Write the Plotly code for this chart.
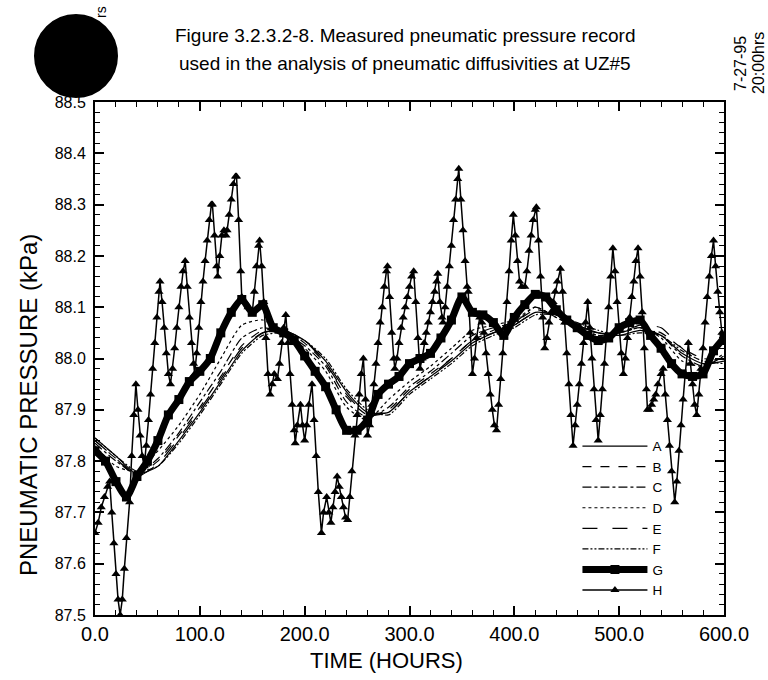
import plotly.graph_objects as go

# ---------------- data ----------------
T20 = list(range(0, 601, 20))
A = [87.845, 87.81, 87.775, 87.79, 87.84, 87.895, 87.955, 88.015, 88.05, 88.055, 88.035, 87.995, 87.935, 87.895, 87.895, 87.935, 87.965, 87.995, 88.03, 88.05, 88.065, 88.09, 88.085, 88.065, 88.05, 88.045, 88.055, 88.045, 88.01, 87.99, 87.995]
B = [87.84, 87.805, 87.775, 87.80, 87.85, 87.905, 87.965, 88.025, 88.055, 88.055, 88.03, 87.99, 87.925, 87.89, 87.90, 87.94, 87.97, 88.0, 88.035, 88.055, 88.07, 88.095, 88.085, 88.06, 88.05, 88.05, 88.06, 88.05, 88.02, 88.0, 88.0]
C = [87.835, 87.80, 87.775, 87.805, 87.855, 87.915, 87.975, 88.04, 88.06, 88.05, 88.025, 87.985, 87.915, 87.885, 87.905, 87.945, 87.975, 88.01, 88.045, 88.06, 88.07, 88.10, 88.08, 88.06, 88.045, 88.05, 88.06, 88.045, 88.005, 87.985, 88.005]
D = [87.83, 87.79, 87.78, 87.82, 87.87, 87.93, 88.00, 88.065, 88.075, 88.05, 88.02, 87.975, 87.905, 87.88, 87.92, 87.955, 87.985, 88.02, 88.055, 88.065, 88.075, 88.10, 88.08, 88.06, 88.045, 88.05, 88.06, 88.04, 87.995, 87.985, 88.01]
E = [87.84, 87.805, 87.77, 87.795, 87.845, 87.90, 87.96, 88.02, 88.05, 88.055, 88.035, 87.99, 87.93, 87.89, 87.895, 87.935, 87.965, 88.0, 88.035, 88.05, 88.065, 88.09, 88.085, 88.065, 88.05, 88.05, 88.065, 88.06, 88.02, 87.99, 87.995]
F = [87.845, 87.81, 87.78, 87.79, 87.835, 87.89, 87.95, 88.01, 88.045, 88.05, 88.035, 88.0, 87.94, 87.90, 87.89, 87.93, 87.96, 87.99, 88.025, 88.045, 88.06, 88.085, 88.085, 88.07, 88.055, 88.045, 88.05, 88.045, 88.015, 87.995, 87.99]

T10 = list(range(0, 601, 10))
G = [87.82, 87.80, 87.76, 87.73, 87.77, 87.80, 87.84, 87.89, 87.92, 87.955,
     87.975, 88.0, 88.05, 88.09, 88.115, 88.09, 88.105, 88.06, 88.05, 88.035,
     88.005, 87.975, 87.945, 87.90, 87.86, 87.86, 87.88, 87.93, 87.95, 87.965,
     87.99, 88.0, 88.01, 88.04, 88.075, 88.12, 88.09, 88.085, 88.07, 88.045,
     88.08, 88.105, 88.125, 88.12, 88.095, 88.075, 88.06, 88.045, 88.035, 88.04,
     88.06, 88.07, 88.075, 88.045, 88.02, 87.99, 87.97, 87.965, 87.97, 88.015,
     88.04]

H_HOURS = [0, 3, 6, 9, 12, 14, 16, 18, 20, 22, 24, 26, 28, 30, 33, 35, 37, 39, 41, 43,
           45, 47, 49, 51, 53, 55, 57, 59, 61, 62, 64, 66, 68, 70, 72, 74, 76, 78, 80, 82,
           84, 86, 88, 90, 92, 94, 95, 97, 99, 101, 103, 105, 107, 109, 111, 112, 114, 116, 117, 119,
           121, 123, 125, 126, 128, 130, 132, 134, 135, 137, 139, 140, 143, 146, 150, 152, 154, 156, 157, 159,
           161, 163, 165, 167, 169, 171, 174, 176, 178, 180, 182, 184, 186, 188, 190, 191, 193, 196, 198, 200,
           202, 204, 207, 209, 211, 213, 216, 218, 221, 223, 225, 227, 229, 231, 233, 235, 237, 239, 241, 243,
           245, 248, 250, 252, 254, 256, 258, 260, 262, 264, 266, 268, 270, 272, 274, 276, 278, 279, 281, 283,
           285, 286, 288, 290, 292, 294, 296, 298, 300, 302, 304, 306, 308, 310, 312, 314, 316, 318, 320, 322,
           324, 326, 327, 329, 331, 332, 334, 336, 338, 340, 342, 344, 346, 347, 349, 351, 353, 355, 356, 358,
           360, 362, 364, 367, 369, 371, 373, 375, 377, 379, 381, 383, 385, 387, 389, 391, 393, 395, 397, 399,
           401, 403, 405, 407, 410, 412, 414, 416, 418, 420, 421, 423, 425, 427, 429, 431, 433, 435, 437, 439,
           441, 444, 446, 448, 450, 452, 454, 456, 458, 460, 462, 464, 466, 468, 470, 472, 474, 476, 478, 480,
           482, 484, 486, 488, 490, 492, 494, 496, 498, 500, 502, 504, 506, 508, 510, 512, 514, 516, 518, 520,
           522, 524, 526, 527, 529, 531, 533, 535, 537, 540, 542, 544, 546, 548, 550, 553, 555, 557, 559, 561,
           563, 566, 568, 570, 572, 574, 576, 578, 580, 582, 584, 586, 588, 590, 592, 594, 596, 598, 600]
H_KPA = [87.66, 87.68, 87.71, 87.73, 87.75, 87.76, 87.70, 87.64, 87.58, 87.53, 87.50, 87.53, 87.59, 87.65, 87.72, 87.81, 87.89, 87.95, 87.90, 87.85,
         87.81, 87.79, 87.83, 87.88, 87.93, 87.98, 88.03, 88.08, 88.13, 88.15, 88.11, 88.06, 88.01, 87.97, 87.95, 87.98, 88.02, 88.06, 88.10, 88.14,
         88.17, 88.19, 88.14, 88.08, 88.03, 87.99, 87.97, 88.01, 88.06, 88.11, 88.15, 88.19, 88.23, 88.27, 88.30, 88.30, 88.24, 88.18, 88.16, 88.20,
         88.24, 88.25, 88.24, 88.25, 88.28, 88.31, 88.34, 88.355, 88.355, 88.27, 88.17, 88.12, 88.11, 88.10, 88.09, 88.13, 88.18, 88.22, 88.23, 88.18,
         88.11, 88.04, 87.97, 87.93, 87.95, 87.97, 87.96, 87.99, 88.03, 88.06, 88.085, 88.03, 87.97, 87.91, 87.86, 87.835, 87.87, 87.91, 87.87, 87.84,
         87.87, 87.91, 87.95, 87.88, 87.81, 87.74, 87.66, 87.70, 87.73, 87.70, 87.68, 87.71, 87.74, 87.77, 87.75, 87.73, 87.71, 87.69, 87.685, 87.73,
         87.78, 87.85, 87.89, 87.93, 87.97, 88.00, 87.92, 87.85, 87.87, 87.91, 87.95, 87.99, 88.03, 88.07, 88.10, 88.14, 88.17, 88.18, 88.12, 88.05,
         88.00, 87.98, 88.00, 88.03, 88.06, 88.08, 88.10, 88.12, 88.14, 88.16, 88.17, 88.11, 88.04, 87.98, 88.00, 88.03, 88.05, 88.07, 88.09, 88.11,
         88.13, 88.15, 88.165, 88.11, 88.08, 88.07, 88.10, 88.14, 88.18, 88.22, 88.27, 88.31, 88.35, 88.37, 88.31, 88.25, 88.19, 88.14, 88.13, 88.05,
         87.97, 88.00, 88.04, 88.08, 88.07, 88.05, 88.01, 87.97, 87.93, 87.90, 87.87, 87.86, 87.91, 87.96, 88.01, 88.06, 88.11, 88.17, 88.23, 88.28,
         88.24, 88.19, 88.15, 88.14, 88.14, 88.17, 88.21, 88.24, 88.27, 88.29, 88.295, 88.23, 88.16, 88.08, 88.02, 88.04, 88.07, 88.09, 88.11, 88.13,
         88.15, 88.175, 88.13, 88.07, 88.01, 87.95, 87.89, 87.83, 87.87, 87.91, 87.95, 87.99, 88.03, 88.07, 88.11, 88.06, 88.00, 87.94, 87.88, 87.84,
         87.89, 87.94, 87.99, 88.04, 88.10, 88.16, 88.215, 88.17, 88.11, 88.06, 88.01, 87.97, 88.00, 88.04, 88.08, 88.12, 88.15, 88.19, 88.215, 88.16,
         88.09, 88.02, 87.94, 87.90, 87.90, 87.91, 87.92, 87.93, 87.95, 87.97, 87.98, 87.93, 87.88, 87.83, 87.78, 87.72, 87.76, 87.82, 87.87, 87.92,
         87.97, 88.03, 87.99, 87.95, 87.91, 87.89, 87.93, 87.98, 88.02, 88.07, 88.12, 88.16, 88.20, 88.23, 88.18, 88.13, 88.09, 88.05, 88.03]

X_TICKS = [0, 100, 200, 300, 400, 500, 600]
Y_TICKS = [87.5, 87.6, 87.7, 87.8, 87.9, 88.0, 88.1, 88.2, 88.3, 88.4, 88.5]

TITLE_1 = "Figure 3.2.3.2-8. Measured pneumatic pressure record"
TITLE_2 = "used in the analysis of pneumatic diffusivities at UZ#5"
STAMP_1 = "7-27-95"
STAMP_2 = "20:00hrs"
X_TITLE = "TIME (HOURS)"
Y_TITLE = "PNEUMATIC PRESSURE (kPa)"

FONT = "Liberation Sans, Arial, sans-serif"

fig = go.Figure()

thin = [("A", A, "solid"), ("B", B, "dash"), ("C", C, "dashdot"),
        ("D", D, "dot"), ("E", E, "longdash"), ("F", F, "6px,2px,2px,2px,2px,2px")]
for name, ys, dash in thin:
    fig.add_trace(go.Scatter(x=T20, y=ys, mode="lines", name=name,
                             line=dict(color="black", width=1.2, dash=dash, shape="spline", smoothing=0.6)))

fig.add_trace(go.Scatter(x=T10, y=G, mode="lines+markers", name="G",
                         line=dict(color="black", width=7, shape="spline", smoothing=0.6),
                         marker=dict(symbol="square", size=9, color="black")))

fig.add_trace(go.Scatter(x=H_HOURS, y=H_KPA, mode="lines+markers", name="H",
                         line=dict(color="black", width=1.5),
                         marker=dict(symbol="triangle-up", size=8, color="black")))

axis_common = dict(showgrid=False, zeroline=False, showline=True, linecolor="black",
                   linewidth=2, mirror="allticks", ticks="inside", tickcolor="black",
                   tickwidth=1.5, ticklen=9)

fig.update_xaxes(range=[0, 600], tickvals=X_TICKS, tickformat=".1f",
                 tickfont=dict(family=FONT, size=20, color="black"),
                 minor=dict(dtick=20, ticks="inside", ticklen=5, tickcolor="black", tickwidth=1.2),
                 **axis_common)
fig.update_yaxes(range=[87.5, 88.5], tickvals=Y_TICKS, tickformat=".1f",
                 tickfont=dict(family=FONT, size=16, color="black"),
                 ticklabelstandoff=4,
                 minor=dict(dtick=0.02, ticks="inside", ticklen=5, tickcolor="black", tickwidth=1.2),
                 **axis_common)

W, Hh = 768, 680
L, R, Tm, Bm = 95, 44, 102, 65
pw, ph = W - L - R, Hh - Tm - Bm
def px2paper(x, y):
    return (x - L) / pw, (Hh - Bm - y) / ph

anns = []
for txt, x, y, ang, size in [(TITLE_1, 405, 35, 0, 19), (TITLE_2, 405, 63, 0, 19),
                             (STAMP_1, 741, 64, -90, 16), (STAMP_2, 758, 63, -90, 16),
                             ("rs", 101, 12, -90, 14),
                             (X_TITLE, 386, 661, 0, 22), (Y_TITLE, 28, 405, -90, 24)]:
    px, py = px2paper(x, y)
    anns.append(dict(text=txt, x=px, y=py, xref="paper", yref="paper", showarrow=False,
                     textangle=ang, xanchor="center", yanchor="middle",
                     font=dict(family=FONT, size=size, color="black")))

x0, y0 = px2paper(35, 97)
x1, y1 = px2paper(117, 15)

fig.update_layout(
    width=W, height=Hh,
    margin=dict(l=L, r=R, t=Tm, b=Bm),
    paper_bgcolor="white", plot_bgcolor="white",
    showlegend=True,
    legend=dict(x=0.767, y=0.359, xanchor="left", yanchor="top",
                bgcolor="rgba(0,0,0,0)", font=dict(family=FONT, size=13.5, color="black"),
                itemwidth=65, tracegroupgap=0),
    annotations=anns,
    shapes=[dict(type="circle", xref="paper", yref="paper", x0=x0, y0=y0, x1=x1, y1=y1,
                 fillcolor="black", line=dict(color="black"), layer="above")],
)

fig.write_html("out.html")
